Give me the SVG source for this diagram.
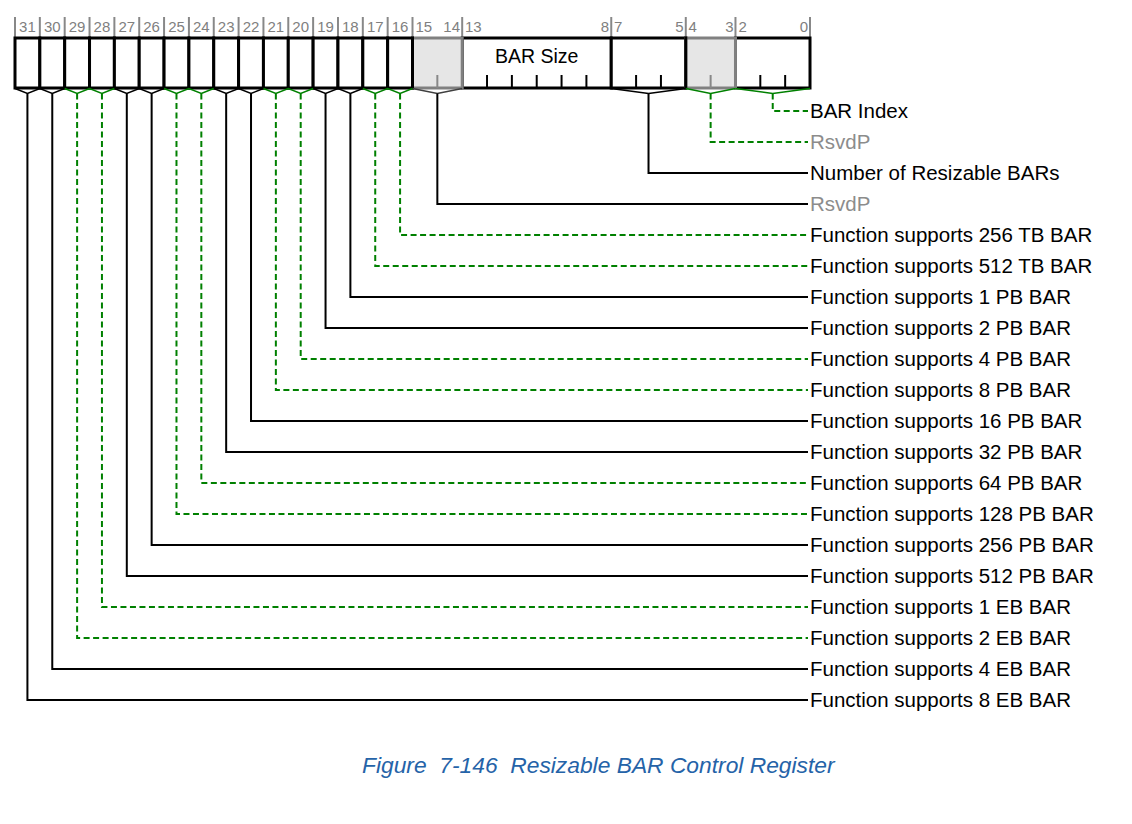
<svg xmlns="http://www.w3.org/2000/svg" width="1132" height="824" viewBox="0 0 1132 824">
<style>
.bitlbl{font-family:"Liberation Sans",Arial,sans-serif;font-size:15px;fill:#808080}
.lbl{font-family:"Liberation Sans",Arial,sans-serif;font-size:20.5px;fill:#000}
.rsv{fill:#8c8c8c}
.cell{fill:#fff;stroke:#000;stroke-width:3}
.gcell{fill:#e6e6e6;stroke:#808080;stroke-width:3}
.gtick{stroke:#888;stroke-width:2}
.btick{stroke:#000;stroke-width:2}
.chev{fill:none;stroke-width:1.5}
.k{stroke:#000}
.g{stroke:#008000}
.wire{fill:none;stroke-width:2}
.dash{stroke-dasharray:6 3.5}
.cap{font-family:"Liberation Sans",Arial,sans-serif;font-size:22.8px;font-style:italic;fill:#2563a8}
</style>
<rect width="1132" height="824" fill="#fff"/>
<g id="register">
<g id="top-ticks" class="gtick">
<line x1="15" y1="17" x2="15" y2="38"/><line x1="39.84" y1="17" x2="39.84" y2="38"/><line x1="64.69" y1="17" x2="64.69" y2="38"/><line x1="89.53" y1="17" x2="89.53" y2="38"/><line x1="114.38" y1="17" x2="114.38" y2="38"/><line x1="139.22" y1="17" x2="139.22" y2="38"/><line x1="164.06" y1="17" x2="164.06" y2="38"/><line x1="188.91" y1="17" x2="188.91" y2="38"/><line x1="213.75" y1="17" x2="213.75" y2="38"/><line x1="238.59" y1="17" x2="238.59" y2="38"/><line x1="263.44" y1="17" x2="263.44" y2="38"/><line x1="288.28" y1="17" x2="288.28" y2="38"/><line x1="313.13" y1="17" x2="313.13" y2="38"/><line x1="337.97" y1="17" x2="337.97" y2="38"/><line x1="362.81" y1="17" x2="362.81" y2="38"/><line x1="387.66" y1="17" x2="387.66" y2="38"/><line x1="412.5" y1="17" x2="412.5" y2="38"/><line x1="462.19" y1="17" x2="462.19" y2="38"/><line x1="611.25" y1="17" x2="611.25" y2="38"/><line x1="685.78" y1="17" x2="685.78" y2="38"/><line x1="735.47" y1="17" x2="735.47" y2="38"/><line x1="810" y1="17" x2="810" y2="38"/>
</g>
<g id="bit-labels" class="bitlbl">
<text x="27.42" y="32" text-anchor="middle">31</text><text x="52.27" y="32" text-anchor="middle">30</text><text x="77.11" y="32" text-anchor="middle">29</text><text x="101.95" y="32" text-anchor="middle">28</text><text x="126.8" y="32" text-anchor="middle">27</text><text x="151.64" y="32" text-anchor="middle">26</text><text x="176.48" y="32" text-anchor="middle">25</text><text x="201.33" y="32" text-anchor="middle">24</text><text x="226.17" y="32" text-anchor="middle">23</text><text x="251.02" y="32" text-anchor="middle">22</text><text x="275.86" y="32" text-anchor="middle">21</text><text x="300.7" y="32" text-anchor="middle">20</text><text x="325.55" y="32" text-anchor="middle">19</text><text x="350.39" y="32" text-anchor="middle">18</text><text x="375.23" y="32" text-anchor="middle">17</text><text x="400.08" y="32" text-anchor="middle">16</text>
<text x="415.5" y="32">15</text><text x="460" y="32" text-anchor="end">14</text>
<text x="465" y="32">13</text><text x="609" y="32" text-anchor="end">8</text>
<text x="614" y="32">7</text><text x="683.5" y="32" text-anchor="end">5</text>
<text x="688.5" y="32">4</text><text x="733.5" y="32" text-anchor="end">3</text>
<text x="738.5" y="32">2</text><text x="808" y="32" text-anchor="end">0</text>
</g>
<g id="cells">
<rect class="cell" x="15" y="38" width="24.84" height="50"/><rect class="cell" x="39.84" y="38" width="24.85" height="50"/><rect class="cell" x="64.69" y="38" width="24.84" height="50"/><rect class="cell" x="89.53" y="38" width="24.85" height="50"/><rect class="cell" x="114.38" y="38" width="24.84" height="50"/><rect class="cell" x="139.22" y="38" width="24.84" height="50"/><rect class="cell" x="164.06" y="38" width="24.85" height="50"/><rect class="cell" x="188.91" y="38" width="24.84" height="50"/><rect class="cell" x="213.75" y="38" width="24.84" height="50"/><rect class="cell" x="238.59" y="38" width="24.85" height="50"/><rect class="cell" x="263.44" y="38" width="24.84" height="50"/><rect class="cell" x="288.28" y="38" width="24.85" height="50"/><rect class="cell" x="313.13" y="38" width="24.84" height="50"/><rect class="cell" x="337.97" y="38" width="24.84" height="50"/><rect class="cell" x="362.81" y="38" width="24.85" height="50"/><rect class="cell" x="387.66" y="38" width="24.84" height="50"/>
<rect class="cell" x="462.19" y="38" width="149.06" height="50"/>
<rect class="cell" x="611.25" y="38" width="74.53" height="50"/>
<rect class="cell" x="735.47" y="38" width="74.53" height="50"/>
<rect class="gcell" x="412.5" y="38" width="49.69" height="50"/>
<rect class="gcell" x="685.78" y="38" width="49.69" height="50"/>
<line x1="412.5" y1="36.5" x2="412.5" y2="89.5" stroke="#000" stroke-width="3"/>
<line x1="685.78" y1="36.5" x2="685.78" y2="89.5" stroke="#000" stroke-width="3"/>
</g>
<g id="inner-ticks">
<line class="gtick" x1="437.34" y1="75" x2="437.34" y2="88"/>
<line class="gtick" x1="710.63" y1="75" x2="710.63" y2="88"/>
<g class="btick">
<line x1="487.03" y1="75" x2="487.03" y2="88"/><line x1="511.88" y1="75" x2="511.88" y2="88"/><line x1="536.72" y1="75" x2="536.72" y2="88"/><line x1="561.56" y1="75" x2="561.56" y2="88"/><line x1="586.41" y1="75" x2="586.41" y2="88"/>
<line x1="636.09" y1="75" x2="636.09" y2="88"/><line x1="660.94" y1="75" x2="660.94" y2="88"/>
<line x1="760.31" y1="75" x2="760.31" y2="88"/><line x1="785.16" y1="75" x2="785.16" y2="88"/>
</g>
</g>
<text id="bar-size" class="lbl" x="536.7" y="63" text-anchor="middle" style="font-size:19.5px">BAR Size</text>
</g>
<g id="connectors">
<g class="chev k"><path d="M15 88.5L27.42 93.5L39.84 88.5L52.27 93.5L64.69 88.5"/><path d="M114.38 88.5L126.8 93.5L139.22 88.5L151.64 93.5L164.06 88.5"/><path d="M213.75 88.5L226.17 93.5L238.59 88.5L251.02 93.5L263.44 88.5"/><path d="M313.13 88.5L325.55 93.5L337.97 88.5L350.39 93.5L362.81 88.5"/><path d="M611.25 88.5L648.52 93.5L685.78 88.5"/></g>
<path class="chev" stroke="#404040" d="M412.5 88.5L437.34 93.5L462.19 88.5"/>
<g class="chev g"><path d="M64.69 88.5L77.11 93.5L89.53 88.5L101.95 93.5L114.38 88.5"/><path d="M164.06 88.5L176.48 93.5L188.91 88.5L201.33 93.5L213.75 88.5"/><path d="M263.44 88.5L275.86 93.5L288.28 88.5L300.7 93.5L313.13 88.5"/><path d="M362.81 88.5L375.23 93.5L387.66 88.5L400.08 93.5L412.5 88.5"/><path d="M685.78 88.5L710.63 93.5L735.47 88.5"/><path d="M735.47 88.5L772.73 93.5L810 88.5"/></g>
<g class="wire g dash">
<path id="w-bar-index" d="M772.73 93.5V111H808"/>
<path id="w-rsvdp-4-3" d="M710.63 93.5V142H808"/>
<path id="w-b16" d="M400.08 93.5V235H808"/>
<path id="w-b17" d="M375.23 93.5V266H808"/>
<path id="w-b20" d="M300.7 93.5V359H808"/>
<path id="w-b21" d="M275.86 93.5V390H808"/>
<path id="w-b24" d="M201.33 93.5V483H808"/>
<path id="w-b25" d="M176.48 93.5V514H808"/>
<path id="w-b28" d="M101.95 93.5V607H808"/>
<path id="w-b29" d="M77.11 93.5V638H808"/>
</g>
<g class="wire k">
<path id="w-num-bars" d="M648.52 93.5V173H808"/>
<path id="w-rsvdp-15-14" d="M437.34 93.5V204H808"/>
<path id="w-b18" d="M350.39 93.5V297H808"/>
<path id="w-b19" d="M325.55 93.5V328H808"/>
<path id="w-b22" d="M251.02 93.5V421H808"/>
<path id="w-b23" d="M226.17 93.5V452H808"/>
<path id="w-b26" d="M151.64 93.5V545H808"/>
<path id="w-b27" d="M126.8 93.5V576H808"/>
<path id="w-b30" d="M52.27 93.5V669H808"/>
<path id="w-b31" d="M27.42 93.5V700H808"/>
</g>
</g>
<g id="labels" class="lbl">
<text id="l-bar-index" x="810" y="118">BAR Index</text>
<text id="l-rsvdp-4-3" class="lbl rsv" x="810" y="149">RsvdP</text>
<text id="l-num-bars" x="810" y="180">Number of Resizable BARs</text>
<text id="l-rsvdp-15-14" class="lbl rsv" x="810" y="211">RsvdP</text>
<text x="810" y="242">Function supports 256 TB BAR</text>
<text x="810" y="273">Function supports 512 TB BAR</text>
<text x="810" y="304">Function supports 1 PB BAR</text>
<text x="810" y="335">Function supports 2 PB BAR</text>
<text x="810" y="366">Function supports 4 PB BAR</text>
<text x="810" y="397">Function supports 8 PB BAR</text>
<text x="810" y="428">Function supports 16 PB BAR</text>
<text x="810" y="459">Function supports 32 PB BAR</text>
<text x="810" y="490">Function supports 64 PB BAR</text>
<text x="810" y="521">Function supports 128 PB BAR</text>
<text x="810" y="552">Function supports 256 PB BAR</text>
<text x="810" y="583">Function supports 512 PB BAR</text>
<text x="810" y="614">Function supports 1 EB BAR</text>
<text x="810" y="645">Function supports 2 EB BAR</text>
<text x="810" y="676">Function supports 4 EB BAR</text>
<text x="810" y="707">Function supports 8 EB BAR</text>
</g>
<text id="caption" class="cap" x="362" y="773" xml:space="preserve">Figure  7-146  Resizable BAR Control Register</text>
</svg>
